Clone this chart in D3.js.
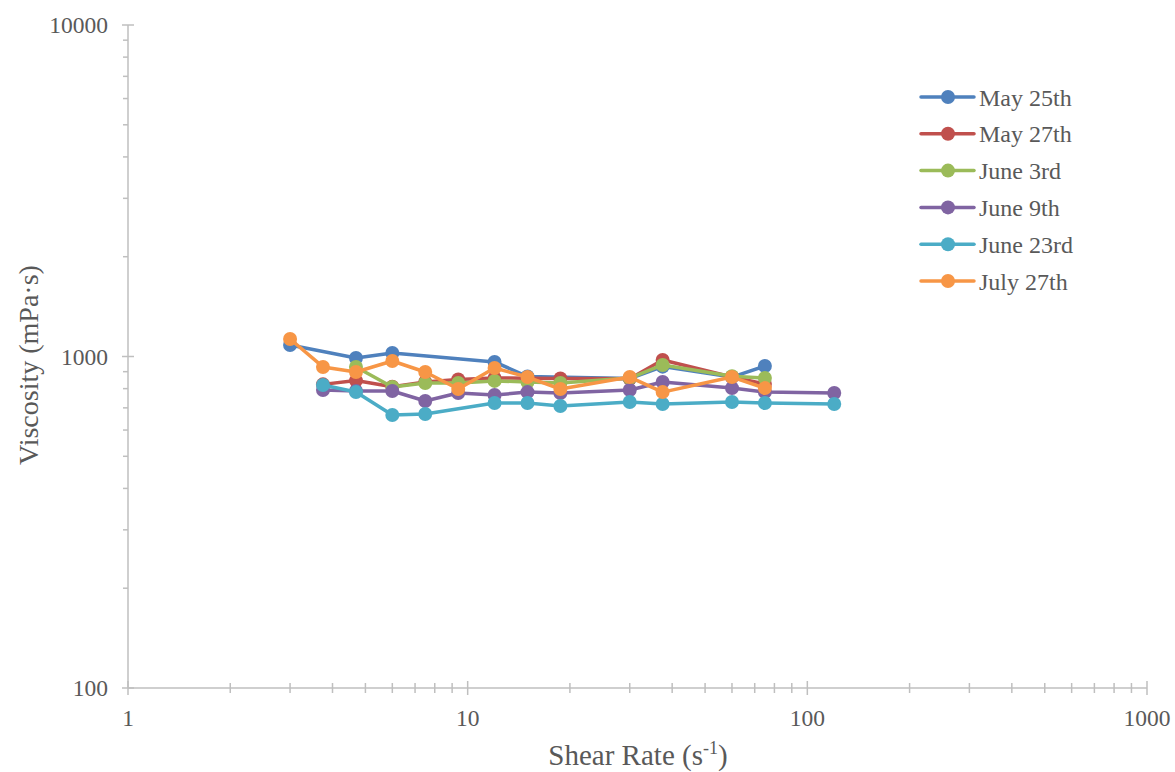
<!DOCTYPE html>
<html><head><meta charset="utf-8">
<script src="https://cdn.jsdelivr.net/npm/d3@7/dist/d3.min.js"></script>
<style>html,body{margin:0;padding:0;background:#fff;}</style>
</head><body><div id="chart"></div>
<script>
const shearRates = [3, 3.75, 4.69, 6, 7.5, 9.38, 12, 15, 18.75, 30, 37.5, 60, 75, 120];
const seriesNames = ["May 25th", "May 27th", "June 3rd", "June 9th", "June 23rd", "July 27th"];
const may25  = [1083, null, 990, 1025, null, null, 963, 870, null, 858, 932, 867, 936, null];
const may27  = [null, 824, 846, 811, 838, 852, 862, 860, 858, 857, 976, 867, 826, null];
const june3  = [null, null, 930, 809, 832, 832, 844, 838, 832, 861, 943, 872, 861, null];
const june9  = [null, 792, 787, 787, 734, 776, 765, 781, 776, 792, 838, 803, 781, 776];
const june23 = [null, 820, 781, 666, 671, null, 724, 724, 709, 729, 719, 729, 724, 719];
const july27 = [1129, 930, 898, 969, 898, 798, 923, 867, 798, 867, 781, 867, 803, null];
const seriesValues = [may25, may27, june3, june9, june23, july27];
const colors = ["#4F81BD", "#C0504D", "#9BBB59", "#8064A2", "#4BACC6", "#F79646"];
const xTicks = [1, 10, 100, 1000];
const yTicks = [100, 1000, 10000];

const W = 1175, H = 772;
const svg = d3.select("#chart").append("svg").attr("width", W).attr("height", H)
  .style("font-family", "'Liberation Serif','Times New Roman',serif");

const x = d3.scaleLog().domain([1, 1000]).range([128, 1147]);
const y = d3.scaleLog().domain([100, 10000]).range([688, 25]);
const axisColor = "#BFBFBF", textColor = "#595959";

const minors = [];
for (let d = 1; d < 1000; d *= 10) for (let k = 2; k <= 9; k++) minors.push(d * k);
const yMinors = [];
for (let d = 100; d < 10000; d *= 10) for (let k = 2; k <= 9; k++) yMinors.push(d * k);

const ax = svg.append("g");
ax.append("line").attr("x1", x(1)).attr("x2", x(1)).attr("y1", y(10000)).attr("y2", y(100))
  .attr("stroke", axisColor).attr("stroke-width", 1.5);
ax.append("line").attr("x1", x(1)).attr("x2", x(1000)).attr("y1", y(100)).attr("y2", y(100))
  .attr("stroke", axisColor).attr("stroke-width", 1.5);
ax.selectAll(".ymaj").data(yTicks).join("line")
  .attr("x1", x(1) - 6).attr("x2", x(1) + 6).attr("y1", d => y(d)).attr("y2", d => y(d))
  .attr("stroke", axisColor).attr("stroke-width", 1.5);
ax.selectAll(".ymin").data(yMinors).join("line")
  .attr("x1", x(1) - 5).attr("x2", x(1)).attr("y1", d => y(d)).attr("y2", d => y(d))
  .attr("stroke", axisColor).attr("stroke-width", 1.5);
ax.selectAll(".xmaj").data(xTicks).join("line")
  .attr("x1", d => x(d)).attr("x2", d => x(d)).attr("y1", y(100) - 7).attr("y2", y(100) + 7)
  .attr("stroke", axisColor).attr("stroke-width", 1.5);
ax.selectAll(".xmin").data(minors).join("line")
  .attr("x1", d => x(d)).attr("x2", d => x(d)).attr("y1", y(100) - 5).attr("y2", y(100) + 5)
  .attr("stroke", axisColor).attr("stroke-width", 1.5);

ax.selectAll(".ylab").data(yTicks).join("text")
  .attr("x", 108).attr("y", d => y(d) + 8).attr("text-anchor", "end")
  .attr("font-size", 23.5).attr("fill", textColor).text(d => d);
ax.selectAll(".xlab").data(xTicks).join("text")
  .attr("x", d => x(d)).attr("y", 726).attr("text-anchor", "middle")
  .attr("font-size", 23.5).attr("fill", textColor).text(d => d);

const xt = svg.append("text").attr("x", 638).attr("y", 765).attr("text-anchor", "middle")
  .attr("font-size", 29).attr("fill", textColor);
xt.append("tspan").text("Shear Rate (s");
xt.append("tspan").attr("dy", -11).attr("font-size", 18).text("-1");
xt.append("tspan").attr("dy", 11).text(")");
svg.append("text").attr("transform", "translate(38,365) rotate(-90)").attr("text-anchor", "middle")
  .attr("font-size", 28).attr("fill", textColor).text("Viscosity (mPa\u00B7s)");

const line = d3.line().x(d => x(d[0])).y(d => y(d[1]));
seriesValues.forEach((vals, i) => {
  const pts = shearRates.map((s, j) => [s, vals[j]]).filter(d => d[1] != null);
  const g = svg.append("g");
  g.append("path").attr("d", line(pts)).attr("fill", "none").attr("stroke", colors[i])
    .attr("stroke-width", 3.5).attr("stroke-linejoin", "round");
  g.selectAll("circle").data(pts).join("circle")
    .attr("cx", d => x(d[0])).attr("cy", d => y(d[1])).attr("r", 7).attr("fill", colors[i]);
});

const lg = svg.append("g");
seriesNames.forEach((name, i) => {
  const cy = 97 + i * 36.8;
  lg.append("line").attr("x1", 921).attr("x2", 974).attr("y1", cy).attr("y2", cy)
    .attr("stroke", colors[i]).attr("stroke-width", 3.5).attr("stroke-linecap", "round");
  lg.append("circle").attr("cx", 948).attr("cy", cy).attr("r", 7).attr("fill", colors[i]);
  lg.append("text").attr("x", 979).attr("y", cy + 8.5).attr("font-size", 24).attr("fill", textColor).text(name);
});
</script></body></html>
